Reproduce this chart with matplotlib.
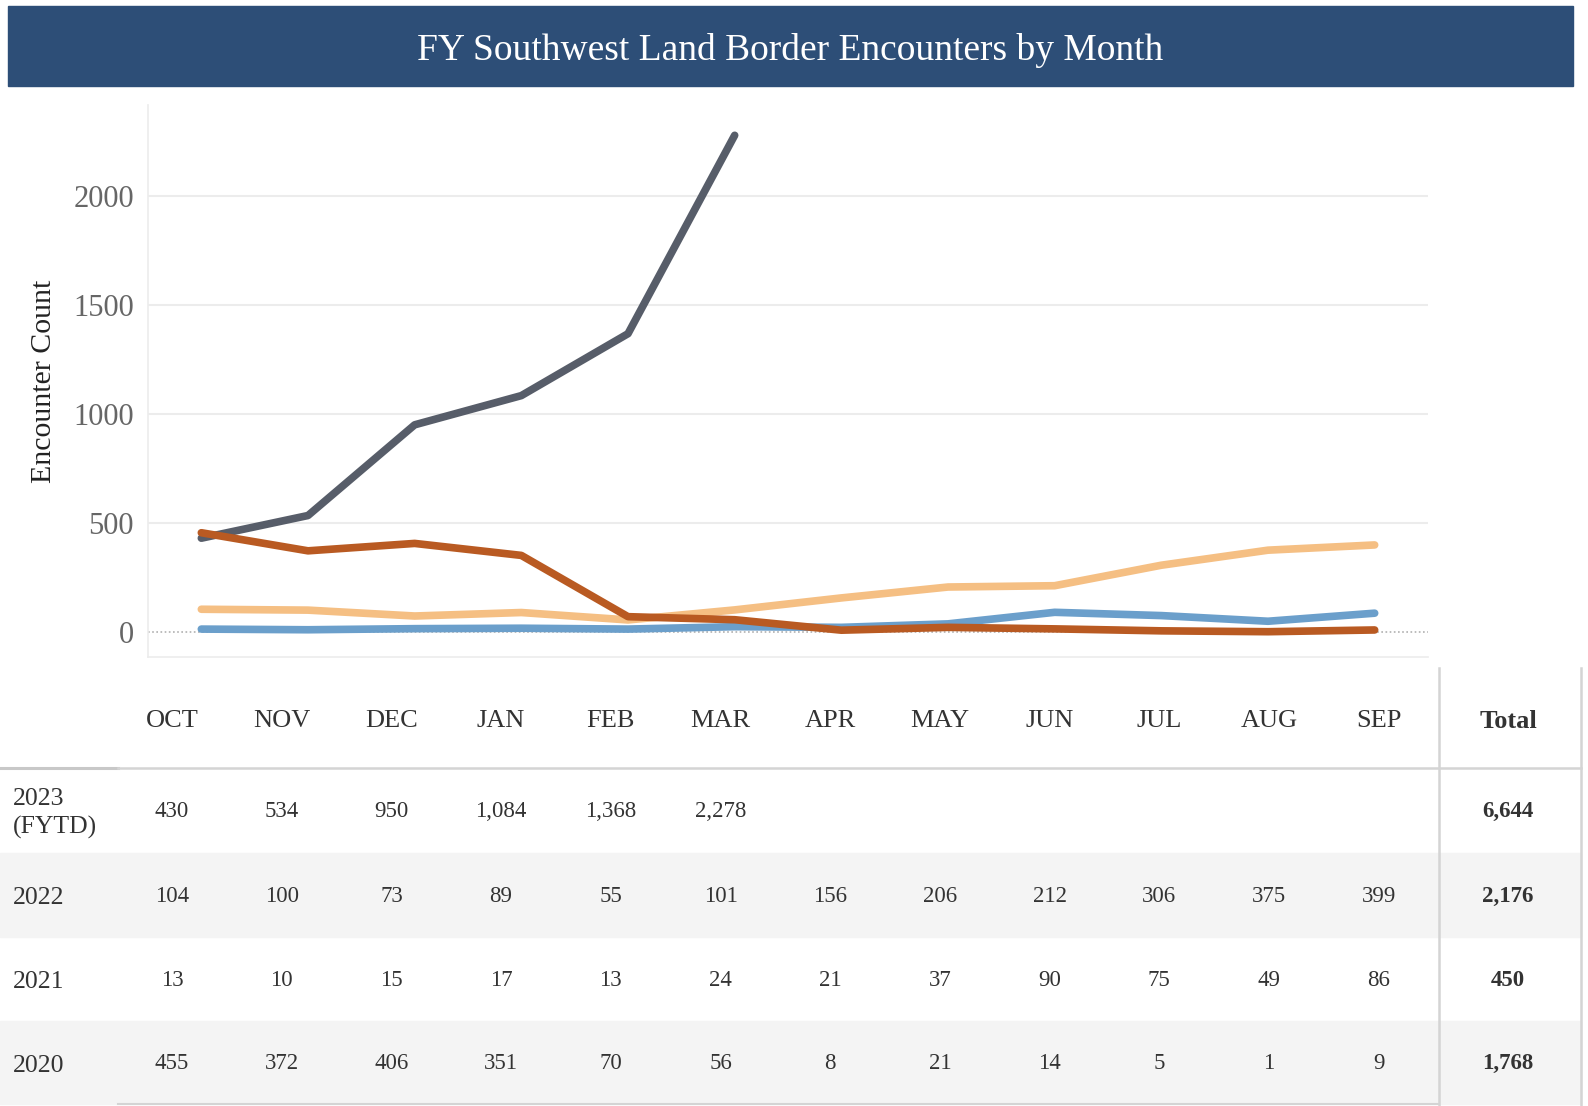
import matplotlib
matplotlib.use("Agg")
import matplotlib.pyplot as plt
from matplotlib.patches import Rectangle
from matplotlib.lines import Line2D

months = ["OCT", "NOV", "DEC", "JAN", "FEB", "MAR", "APR", "MAY", "JUN", "JUL", "AUG", "SEP"]
years = ["2023\n(FYTD)", "2022", "2021", "2020"]
fy2023 = [430, 534, 950, 1084, 1368, 2278]
fy2022 = [104, 100, 73, 89, 55, 101, 156, 206, 212, 306, 375, 399]
fy2021 = [13, 10, 15, 17, 13, 24, 21, 37, 90, 75, 49, 86]
fy2020 = [455, 372, 406, 351, 70, 56, 8, 21, 14, 5, 1, 9]
totals = [6644, 2176, 450, 1768]
yticks = [0, 500, 1000, 1500, 2000]

colors = {"2023": "#575d69", "2022": "#f5bf83", "2021": "#6b9fcb", "2020": "#b95a22"}

W, H = 1588, 1106
fig = plt.figure(figsize=(W / 100, H / 100), dpi=100)
serif = "Liberation Serif"

def fx(px):
    return px / W

def fy(py):
    return 1 - py / H

# Title bar
fig.patches.append(Rectangle((fx(8), fy(86)), fx(1573) - fx(8), fy(6) - fy(86),
                             transform=fig.transFigure, color="#2d4e77", zorder=0))
fig.text(fx(790), fy(50), "FY Southwest Land Border Encounters by Month", color="white",
         family=serif, fontsize=27, ha="center", va="center")

# Chart
ax = fig.add_axes([fx(148), fy(657), fx(1428) - fx(148), fy(105) - fy(657)])
ax.set_xlim(-0.5, 11.5)
ax.set_ylim(-115, 2417)
for s in ["top", "right"]:
    ax.spines[s].set_visible(False)
for s in ["left", "bottom"]:
    ax.spines[s].set_color("#ececec")
    ax.spines[s].set_linewidth(1.2)
ax.set_xticks([])
ax.set_yticks(yticks)
ax.set_yticklabels([str(v) for v in yticks], family=serif, fontsize=22, color="#666666")
ax.tick_params(axis="y", length=0, pad=10)
for v in yticks[1:]:
    ax.axhline(v, color="#ececec", lw=1.5, zorder=0)
ax.axhline(0, color="#b0b0b0", lw=1.2, ls=(0, (1, 1.5)), zorder=0)
ax.set_ylabel("Encounter Count", family=serif, fontsize=21.5, color="#222222", labelpad=12)

series = [("2023", fy2023), ("2022", fy2022), ("2021", fy2021), ("2020", fy2020)]
for i, (name, vals) in enumerate(series):
    ax.plot(range(len(vals)), vals, color=colors[name], lw=5.5, solid_capstyle="round",
            solid_joinstyle="round", zorder=2 + i)

# Table
col_x0 = 172
col_dx = 109.7
total_x = 1508
header_y = 721
row_bounds = [(768, 853), (853, 937), (937, 1021), (1021, 1104)]
row_bg = ["white", "#f4f4f4", "white", "#f4f4f4"]
txtcol = "#333333"

for (y0, y1), bg in zip(row_bounds, row_bg):
    if bg != "white":
        fig.patches.append(Rectangle((fx(0), fy(y1)), fx(1581), fy(y0) - fy(y1),
                                     transform=fig.transFigure, color=bg, zorder=0))

for j, m in enumerate(months):
    fig.text(fx(col_x0 + j * col_dx), fy(header_y), m, family=serif, fontsize=19,
             color=txtcol, ha="center", va="center")
fig.text(fx(total_x), fy(header_y), "Total", family=serif, fontsize=19, weight="bold",
         color=txtcol, ha="center", va="center")

rows = [fy2023, fy2022, fy2021, fy2020]
for r, ((y0, y1), label, vals, tot) in enumerate(zip(row_bounds, years, rows, totals)):
    yc = (y0 + y1) / 2
    fig.text(fx(13), fy(yc + 3), label, family=serif, fontsize=18.5, color=txtcol,
             ha="left", va="center", linespacing=1.3)
    for j, v in enumerate(vals):
        fig.text(fx(col_x0 + j * col_dx), fy(yc + 1), f"{v:,}", family=serif, fontsize=16.5,
                 color=txtcol, ha="center", va="center")
    fig.text(fx(total_x), fy(yc + 1), f"{tot:,}", family=serif, fontsize=16.5, weight="bold",
             color=txtcol, ha="center", va="center")

# Table lines
def hline(x0, x1, y, c, lw):
    fig.add_artist(Line2D([fx(x0), fx(x1)], [fy(y), fy(y)], transform=fig.transFigure,
                          color=c, lw=lw))

def vline(x, y0, y1, c, lw):
    fig.add_artist(Line2D([fx(x), fx(x)], [fy(y0), fy(y1)], transform=fig.transFigure,
                          color=c, lw=lw))

hline(0, 118, 768, "#c8c8c8", 2.2)
hline(118, 1581, 768, "#d4d4d4", 1.8)
hline(118, 1439, 1104, "#d4d4d4", 1.5)
vline(1439, 668, 1106, "#d4d4d4", 1.8)
vline(1581, 668, 1106, "#d4d4d4", 1.8)

fig.savefig("out.png", dpi=100)
